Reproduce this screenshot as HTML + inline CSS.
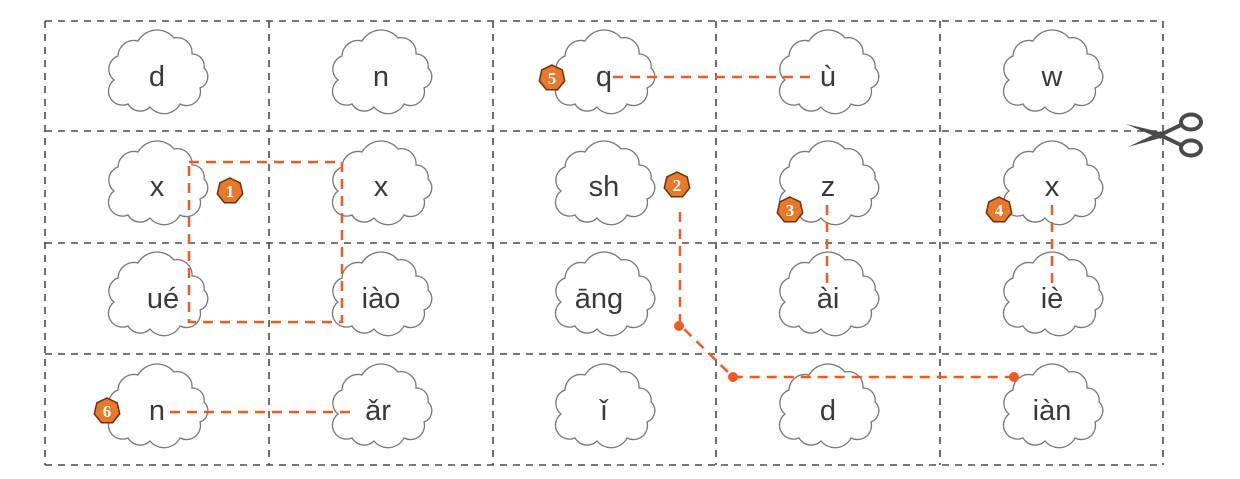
<!DOCTYPE html>
<html><head><meta charset="utf-8"><style>
html,body{margin:0;padding:0;background:#fff;}
svg{display:block;}
.lab text{font-family:"Liberation Sans","DejaVu Sans",sans-serif;}
.num text{font-family:"Liberation Serif","DejaVu Serif",serif;font-weight:bold;}
</style></head><body>
<svg width="1240" height="479" viewBox="0 0 1240 479" xmlns="http://www.w3.org/2000/svg">
<defs>
<path id="cl" d="M -32,28 a 14 14 0 0 1 -14,-24 a 14 14 0 0 1 4,-24 a 16 16 0 0 1 20,-15 a 22 22 0 0 1 36,-3 a 15 15 0 0 1 18,16 a 12 12 0 0 1 12,14 a 12 12 0 0 1 -4,20 a 14 14 0 0 1 -20,16 a 18 18 0 0 1 -30,3 a 14 14 0 0 1 -22,-3 z" fill="#fff" stroke="#777" stroke-width="1.3"/>
<polygon id="hp" points="0,-13 10.2,-8.1 12.7,2.9 5.6,11.7 -5.6,11.7 -12.7,2.9 -10.2,-8.1" fill="#e8782a" stroke="#6b3210" stroke-width="1.5"/>
</defs>
<g stroke="#4a4a4a" stroke-width="1.6" stroke-dasharray="7,6" fill="none">
<line x1="45" y1="21" x2="1163" y2="21"/>
<line x1="45" y1="131" x2="1163" y2="131"/>
<line x1="45" y1="243" x2="1163" y2="243"/>
<line x1="45" y1="354" x2="1163" y2="354"/>
<line x1="45" y1="465" x2="1163" y2="465"/>
<line x1="45" y1="21" x2="45" y2="465"/>
<line x1="269" y1="21" x2="269" y2="465"/>
<line x1="493" y1="21" x2="493" y2="465"/>
<line x1="716" y1="21" x2="716" y2="465"/>
<line x1="940" y1="21" x2="940" y2="465"/>
<line x1="1163" y1="21" x2="1163" y2="465"/>
</g>
<g>
<use href="#cl" x="160" y="76"/><use href="#cl" x="384" y="76"/><use href="#cl" x="607" y="76"/><use href="#cl" x="831" y="76"/><use href="#cl" x="1055" y="76"/>
<use href="#cl" x="160" y="187"/><use href="#cl" x="384" y="187"/><use href="#cl" x="607" y="187"/><use href="#cl" x="831" y="187"/><use href="#cl" x="1055" y="187"/>
<use href="#cl" x="160" y="298"/><use href="#cl" x="384" y="298"/><use href="#cl" x="607" y="298"/><use href="#cl" x="831" y="298"/><use href="#cl" x="1055" y="298"/>
<use href="#cl" x="160" y="410"/><use href="#cl" x="384" y="410"/><use href="#cl" x="607" y="410"/><use href="#cl" x="831" y="410"/><use href="#cl" x="1055" y="410"/>
</g>
<g class="lab" font-size="29" fill="#3a3a3a" text-anchor="middle">
<text x="157" y="86">d</text><text x="381" y="86">n</text><text x="604" y="86">q</text><text x="828" y="86">ù</text><text x="1052" y="86">w</text>
<text x="157" y="196">x</text><text x="381" y="196">x</text><text x="604" y="196">sh</text><text x="828" y="196">z</text><text x="1052" y="196">x</text>
<text x="163" y="308">ué</text><text x="381" y="308">iào</text><text x="599" y="308">āng</text><text x="828" y="308">ài</text><text x="1052" y="308">iè</text>
<text x="157" y="420">n</text><text x="378" y="420">ǎr</text><text x="604" y="420">ǐ</text><text x="828" y="420">d</text><text x="1052" y="420">iàn</text>
</g>
<g stroke="#f05a24" stroke-width="2.5" stroke-dasharray="10,7" fill="none">
<rect x="189" y="162" width="153" height="160"/>
<polyline points="680,212 680,325 733,377 1014,377"/>
<line x1="827" y1="205" x2="827" y2="285"/>
<line x1="1052" y1="205" x2="1052" y2="285"/>
<line x1="613" y1="77" x2="810" y2="77"/>
<line x1="170" y1="412" x2="355" y2="412"/>
</g>
<g fill="#f05a24"><circle cx="679" cy="326" r="5"/><circle cx="733" cy="377" r="5"/><circle cx="1014" cy="377" r="5"/></g>
<g>
<use href="#hp" x="230" y="191"/><use href="#hp" x="677" y="185"/><use href="#hp" x="790" y="210"/><use href="#hp" x="999" y="210"/><use href="#hp" x="552" y="78"/><use href="#hp" x="107" y="411"/>
</g>
<g class="num" font-size="17" fill="#fff" text-anchor="middle">
<text x="230" y="197">1</text><text x="677" y="191">2</text><text x="790" y="216">3</text><text x="999" y="216">4</text><text x="552" y="84">5</text><text x="107" y="417">6</text>
</g>
<g fill="#4a4a4a">
<polygon points="1126,124 1164,133 1161,139"/>
<polygon points="1128,147 1164,137 1161,131"/>
<line x1="1158" y1="136" x2="1183" y2="124" stroke="#4a4a4a" stroke-width="4"/>
<line x1="1158" y1="134" x2="1183" y2="146" stroke="#4a4a4a" stroke-width="4"/>
<ellipse cx="1191" cy="122" rx="10" ry="7.5" fill="none" stroke="#4a4a4a" stroke-width="4"/>
<ellipse cx="1191" cy="148" rx="10" ry="7.5" fill="none" stroke="#4a4a4a" stroke-width="4"/>
</g>
</svg>
</body></html>
